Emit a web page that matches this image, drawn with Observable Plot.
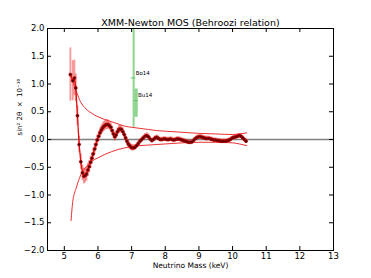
<!DOCTYPE html>
<html>
<head>
<meta charset="utf-8">
<script src="https://cdn.jsdelivr.net/npm/d3@7"></script>
<script src="https://cdn.jsdelivr.net/npm/@observablehq/plot@0.6"></script>
<style>
  html, body { margin: 0; padding: 0; background: #fff; }
  #chart svg { display: block; }
</style>
</head>
<body>
<div id="chart"></div>
<script>
const title = "XMM-Newton MOS (Behroozi relation)";
const xLabel = "Neutrino Mass (keV)";
const yLabel = "sin\u00B2 2\u03B8  \u00D7  10\u207B\u00B9\u2070";

const xTicks = [5, 6, 7, 8, 9, 10, 11, 12, 13];
const yTicks = [-2.0, -1.5, -1.0, -0.5, 0.0, 0.5, 1.0, 1.5, 2.0];

// Measured points
const mass = [5.18, 5.25, 5.30, 5.34, 5.39, 5.44, 5.49, 5.54, 5.58, 5.62, 5.66, 5.70, 5.74, 5.78, 5.82, 5.86, 5.90, 5.94, 5.98,
  6.02, 6.06, 6.10, 6.14, 6.18, 6.22, 6.26, 6.30, 6.34, 6.38, 6.42, 6.46, 6.50, 6.54, 6.58, 6.62, 6.66, 6.70, 6.74, 6.78, 6.82,
  6.86, 6.90, 6.94, 6.98, 7.02, 7.06, 7.10, 7.15, 7.20, 7.25, 7.30, 7.35, 7.40, 7.45, 7.50, 7.55, 7.60, 7.65, 7.70, 7.75, 7.80,
  7.85, 7.90, 7.95, 8.00, 8.05, 8.10, 8.15, 8.20, 8.25, 8.30, 8.35, 8.40, 8.45, 8.50, 8.55, 8.60, 8.65, 8.70, 8.75, 8.80, 8.85,
  8.90, 8.95, 9.00, 9.05, 9.10, 9.15, 9.20, 9.25, 9.30, 9.35, 9.40, 9.45, 9.50, 9.55, 9.60, 9.65, 9.70, 9.75, 9.80, 9.85, 9.90,
  9.95, 10.00, 10.05, 10.10, 10.15, 10.20, 10.25, 10.30, 10.35, 10.40];
const sin2 = [1.17, 1.06, 1.11, 0.93, 0.43, -0.09, -0.40, -0.60, -0.66, -0.65, -0.62, -0.55, -0.49, -0.41, -0.34, -0.26, -0.17, -0.09, -0.01,
  0.06, 0.12, 0.17, 0.21, 0.24, 0.26, 0.27, 0.27, 0.25, 0.22, 0.16, 0.10, 0.05, 0.08, 0.14, 0.18, 0.19, 0.18, 0.14, 0.09, 0.03,
  -0.03, -0.08, -0.11, -0.14, -0.15, -0.15, -0.14, -0.11, -0.07, -0.03, 0.00, 0.03, 0.06, 0.07, 0.05, 0.01, -0.02, 0.00, 0.03, 0.04, 0.02,
  0.00, 0.00, 0.01, 0.01, 0.00, 0.00, 0.01, 0.00, -0.01, 0.00, 0.01, 0.01, 0.00, -0.01, -0.02, -0.03, -0.04, -0.05, -0.05, -0.04, -0.01,
  0.02, 0.04, 0.05, 0.05, 0.04, 0.03, 0.02, 0.02, 0.02, 0.01, 0.00, -0.01, -0.01, -0.02, -0.02, -0.03, -0.03, -0.03, -0.03, -0.02, -0.01,
  0.01, 0.03, 0.04, 0.05, 0.06, 0.07, 0.06, 0.03, 0.00, -0.03];
const err = [0.48, 0.36, 0.32, 0.25, 0.18, 0.15, 0.14, 0.14, 0.14, 0.13, 0.13, 0.12, 0.11, 0.11, 0.10, 0.10, 0.10, 0.10, 0.09,
  0.09, 0.09, 0.09, 0.09, 0.09, 0.09, 0.09, 0.08, 0.08, 0.08, 0.08, 0.08, 0.08, 0.07, 0.07, 0.07, 0.07, 0.07, 0.07, 0.06, 0.06,
  0.06, 0.06, 0.06, 0.06, 0.06, 0.05, 0.05, 0.05, 0.05, 0.05, 0.05, 0.05, 0.05, 0.05, 0.05, 0.04, 0.04, 0.04, 0.04, 0.04, 0.04,
  0.04, 0.04, 0.04, 0.04, 0.04, 0.04, 0.04, 0.04, 0.04, 0.04, 0.04, 0.04, 0.04, 0.04, 0.04, 0.04, 0.04, 0.04, 0.04, 0.04, 0.04,
  0.04, 0.04, 0.04, 0.04, 0.04, 0.04, 0.04, 0.04, 0.04, 0.04, 0.04, 0.04, 0.04, 0.04, 0.04, 0.04, 0.04, 0.04, 0.04, 0.04, 0.04,
  0.04, 0.04, 0.04, 0.04, 0.04, 0.04, 0.04, 0.04, 0.04, 0.04];

// Upper / lower limit curves
const envMass = [5.20, 5.25, 5.30, 5.35, 5.40, 5.45, 5.50, 5.60, 5.70, 5.80, 5.90, 6.00, 6.20, 6.40, 6.60, 6.80, 7.00, 7.25, 7.50, 7.75, 8.00, 8.50, 9.00, 9.50, 10.00, 10.20, 10.42];
const envUp  = [1.15, 1.05, 0.96, 0.88, 0.80, 0.72, 0.66, 0.58, 0.52, 0.48, 0.44, 0.41, 0.36, 0.32, 0.28, 0.24, 0.22, 0.20, 0.18, 0.16, 0.15, 0.13, 0.11, 0.10, 0.09, 0.10, 0.12];
const envLo  = [-1.46, -1.12, -0.97, -0.88, -0.78, -0.70, -0.62, -0.53, -0.46, -0.40, -0.36, -0.33, -0.27, -0.22, -0.18, -0.15, -0.13, -0.11, -0.10, -0.09, -0.08, -0.06, -0.05, -0.05, -0.06, -0.08, -0.11];

// Literature claims (green)
const claimName = ["Bo14", "Bu14"];
const claimMass = [7.06, 7.13];
const claimVal  = [1.11, 0.70];
const claimLo   = [0.22, 0.40];
const claimHi   = [2.00, 0.91];

const pts = mass.map((m, i) => ({m, v: sin2[i], lo: sin2[i] - err[i], hi: sin2[i] + err[i]}));
const env = envMass.map((m, i) => ({m, up: envUp[i], lo: envLo[i]}));
const claims = claimName.map((n, i) => ({n, m: claimMass[i], v: claimVal[i], lo: claimLo[i], hi: claimHi[i], w: i === 0 ? 2 : 3.5}));

const xDom = [4.5, 13], yDom = [-2, 2];
const W = 371, H = 278, mL = 47, mR = 38, mT = 28, mB = 28;
const tickLen = 4;
const dyTick = tickLen * (yDom[1] - yDom[0]) / (H - mT - mB);
const dxTick = tickLen * (xDom[1] - xDom[0]) / (W - mL - mR);
const fmt = d => d.toFixed(1).replace("-", "\u2212");

const chart = Plot.plot({
  width: W, height: H,
  marginLeft: mL, marginRight: mR, marginTop: mT, marginBottom: mB,
  style: {fontFamily: "DejaVu Sans", background: "#fff"},
  x: {domain: xDom},
  y: {domain: yDom},
  marks: [
    Plot.ruleY([0], {stroke: "#808080", strokeWidth: 1.5}),
    // claims
    Plot.ruleX(claims, {x: "m", y1: "lo", y2: "hi", stroke: "#8fd48f", strokeWidth: d => d.w}),
    Plot.ruleY(claims, {y: "v", x1: d => d.m - 0.07, x2: d => d.m + 0.07, stroke: "#6cc46c", strokeWidth: 1}),
    Plot.text(claims, {x: "m", y: "v", text: "n", dx: 2, dy: -5, textAnchor: "start", fontSize: 5.5, fill: "#000"}),
    // envelopes
    Plot.line(env, {x: "m", y: "up", stroke: "#e8191a", strokeWidth: 0.9, curve: "monotone-x"}),
    Plot.line(env, {x: "m", y: "lo", stroke: "#e8191a", strokeWidth: 0.9, curve: "monotone-x"}),
    // data
    Plot.ruleX(pts, {x: "m", y1: "lo", y2: "hi", stroke: "#ee3333", strokeOpacity: 0.5, strokeWidth: 1.8}),
    Plot.line(pts, {x: "m", y: "v", stroke: "#e01010", strokeWidth: 1.3}),
    Plot.dot(pts, {x: "m", y: "v", r: 1.5, fill: "#3a0000", stroke: "#cc0000", strokeWidth: 0.7}),
    // frame & ticks
    Plot.frame({stroke: "#000", strokeWidth: 1}),
    Plot.ruleX(xTicks, {x: d => d, y1: yDom[0], y2: yDom[0] + dyTick, stroke: "#000"}),
    Plot.ruleX(xTicks, {x: d => d, y1: yDom[1], y2: yDom[1] - dyTick, stroke: "#000"}),
    Plot.ruleY(yTicks, {y: d => d, x1: xDom[0], x2: xDom[0] + dxTick, stroke: "#000"}),
    Plot.ruleY(yTicks, {y: d => d, x1: xDom[1], x2: xDom[1] - dxTick, stroke: "#000"}),
    Plot.axisX({ticks: xTicks, tickSize: 0, tickPadding: 2, fontSize: 8.5, label: null}),
    Plot.axisY({ticks: yTicks, tickSize: 0, tickPadding: 3, fontSize: 8.5, label: null, tickFormat: fmt}),
    Plot.text([title], {frameAnchor: "top", dy: -3, lineAnchor: "bottom", fontSize: 9.5, fill: "#000"}),
    Plot.text([xLabel], {frameAnchor: "bottom", dy: 15, lineAnchor: "middle", fontSize: 7.5, fill: "#000"}),
    Plot.text([yLabel], {frameAnchor: "left", dx: -28, dy: -4, rotate: -90, fontSize: 7, fill: "#000"})
  ]
});
document.getElementById("chart").append(chart);
</script>
</body>
</html>
